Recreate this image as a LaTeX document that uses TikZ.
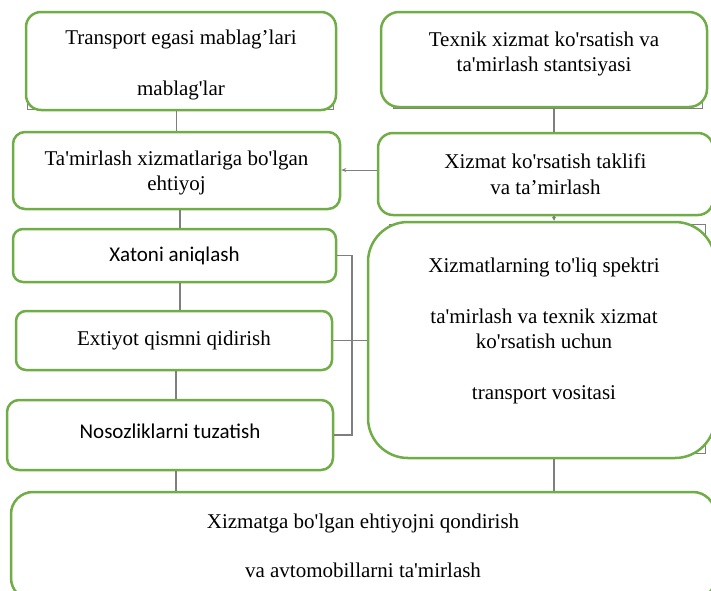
\documentclass[tikz,border=0pt]{standalone}
\usepackage{fontspec}
\setmainfont{Liberation Serif}[Ligatures=TeXOff]
\newfontfamily\calibrifont{Carlito}
\usepackage{xcolor}
\usetikzlibrary{positioning,calc,arrows.meta}
\definecolor{boxgreen}{HTML}{70AD47}
\definecolor{linkgray}{HTML}{7F7F7F}
\tikzset{
  box/.style={draw=boxgreen, line width=2.5pt, fill=white, rounded corners=12pt, align=center, inner sep=0pt},
  back/.style={draw=linkgray, line width=1pt},
  link/.style={draw=linkgray, line width=1.6pt},
  txt/.style={align=center, inner sep=0pt},
  sans/.style={font=\calibrifont\fontsize{21}{25.5}\selectfont},
}
\begin{document}
\begin{tikzpicture}[x=1pt, y=-1pt, font=\fontsize{21}{25.5}\selectfont]
    \useasboundingbox (0,0) rectangle (711,590);
    % frames behind
    \draw[back] (27,20) rectangle (333,109);
    \draw[back] (393,20) rectangle (702,108);
    \draw[back] (389,224) rectangle (705,453);
    % left column
    \node[box, rounded corners=15pt, minimum width=310pt, minimum height=98pt] (owner) at (181,61) {};
    \node[txt] (owner-t) at (181,65) {Transport egasi mablag’lari\\[25.5pt]mablag'lar};
    \node[box, minimum width=327pt, minimum height=77pt] (need) at (176.5,170.5) {};
    \node[txt] (need-t) at (176.5,173) {Ta'mirlash xizmatlariga bo'lgan\\ehtiyoj};
    \node[box, sans, rounded corners=10pt, minimum width=323pt, minimum height=53pt] (diag) at (174.5,255.5) {Xatoni aniqlash};
    \node[box, rounded corners=10pt, minimum width=316pt, minimum height=59pt] (parts) at (174,340.5) {Extiyot qismni qidirish};
    \node[box, sans, minimum width=326pt, minimum height=70pt] (fix) at (170,435) {};
    \node[txt, sans] (fix-t) at (170,431) {Nosozliklarni tuzatish};
    % right column
    \node[box, rounded corners=18pt, minimum width=326pt, minimum height=95pt] (station) at (544,59.5) {};
    \node[txt] (station-t) at (544,54) {Texnik xizmat ko'rsatish va\\ta'mirlash stantsiyasi};
    \node[box, rounded corners=15pt, minimum width=335pt, minimum height=82pt] (offer) at (545.5,174) {Xizmat ko'rsatish taklifi\\va ta’mirlash};
    \node[box, rounded corners=40pt, minimum width=347pt, minimum height=236pt] (spectrum) at (541.5,340) {};
    \node[txt] (spectrum-t) at (544,331) {Xizmatlarning to'liq spektri\\[25.5pt]ta'mirlash va texnik xizmat\\ko'rsatish uchun\\[25.5pt]transport vositasi};
    % bottom
    \node[box, rounded corners=22pt, minimum width=704pt, minimum height=108pt] (result) at (363,546) {Xizmatga bo'lgan ehtiyojni qondirish\\[23pt]va avtomobillarni ta'mirlash};
    \coordinate (rx) at (554,0);
    % connectors
    \draw[link] (owner.south -| need.north) -- (need.north);
    \draw[link] (need.south -| 180,0) -- (diag.north -| 180,0);
    \draw[link] (diag.south -| 180,0) -- (parts.north -| 180,0);
    \draw[link] (parts.south -| 176,0) -- (fix.north -| 176,0);
    \draw[link] (fix.south -| 176,0) -- (result.north -| 176,0);
    \draw[link] (station.south -| rx) -- (offer.north -| rx);
    \draw[link, -{Stealth[length=4pt,width=4pt]}] (offer.south -| rx) -- (spectrum.north -| rx);
    \draw[link] (spectrum.south -| rx) -- (result.north -| rx);
    \draw[link, line width=1pt, -{Stealth[length=5pt,width=4pt]}] (offer.west |- 0,170) -- (need.east |- 0,170);
    \draw[link] (diag.east) -- (352,255.5) |- (fix.east);
    \draw[link] (parts.east) -- (spectrum.west |- parts.east);
\end{tikzpicture}
\end{document}
